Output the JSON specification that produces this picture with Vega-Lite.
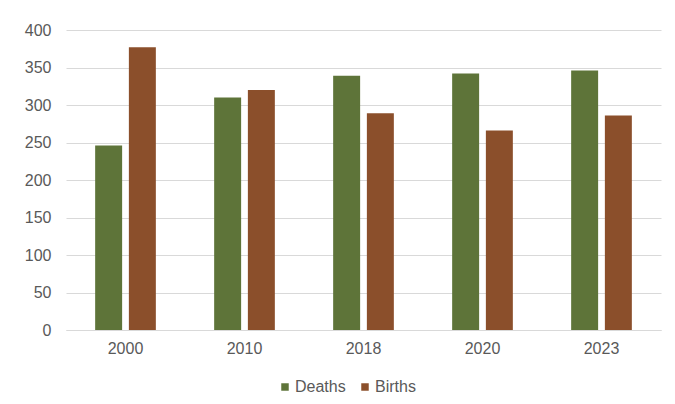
{
  "$schema": "https://vega.github.io/schema/vega-lite/v6.json",
  "autosize": {"type": "none"},
  "width": 595,
  "height": 300,
  "padding": {"left": 66, "top": 30, "right": 14, "bottom": 74},
  "background": "white",
  "data": {
    "values": [
      {"year": "2000", "series": "Deaths", "value": 246},
      {"year": "2000", "series": "Births", "value": 377},
      {"year": "2010", "series": "Deaths", "value": 310},
      {"year": "2010", "series": "Births", "value": 320},
      {"year": "2018", "series": "Deaths", "value": 339},
      {"year": "2018", "series": "Births", "value": 289},
      {"year": "2020", "series": "Deaths", "value": 342},
      {"year": "2020", "series": "Births", "value": 266},
      {"year": "2023", "series": "Deaths", "value": 346},
      {"year": "2023", "series": "Births", "value": 286}
    ]
  },
  "mark": {"type": "bar"},
  "encoding": {
    "x": {
      "field": "year", "type": "nominal", "title": null,
      "scale": {"paddingInner": 0.49, "paddingOuter": 0.245},
      "axis": {"labelAngle": 0, "labelFontSize": 16, "labelColor": "#595959", "labelFont": "Liberation Sans", "labelPadding": 10, "ticks": false, "domainColor": "#D9D9D9", "domainWidth": 1}
    },
    "xOffset": {
      "field": "series", "type": "nominal",
      "sort": ["Deaths", "Births"],
      "scale": {"paddingInner": 0.2}
    },
    "y": {
      "field": "value", "type": "quantitative", "title": null,
      "scale": {"domain": [0, 400], "nice": false},
      "axis": {"values": [0, 50, 100, 150, 200, 250, 300, 350, 400], "labelFontSize": 16, "labelColor": "#595959", "labelFont": "Liberation Sans", "labelPadding": 15, "ticks": false, "domain": false, "gridColor": "#D9D9D9", "gridWidth": 1}
    },
    "color": {
      "field": "series", "type": "nominal",
      "sort": ["Deaths", "Births"],
      "scale": {"domain": ["Deaths", "Births"], "range": ["#5E7439", "#8B4F2B"]},
      "legend": {"title": null, "orient": "none", "legendX": 211, "legendY": 349, "direction": "horizontal", "symbolType": "square", "symbolSize": 56, "symbolStrokeWidth": 0, "labelFontSize": 16, "labelColor": "#595959", "labelFont": "Liberation Sans", "columnPadding": 11, "labelOffset": 2, "padding": 0}
    }
  },
  "config": {"view": {"stroke": null}}
}
